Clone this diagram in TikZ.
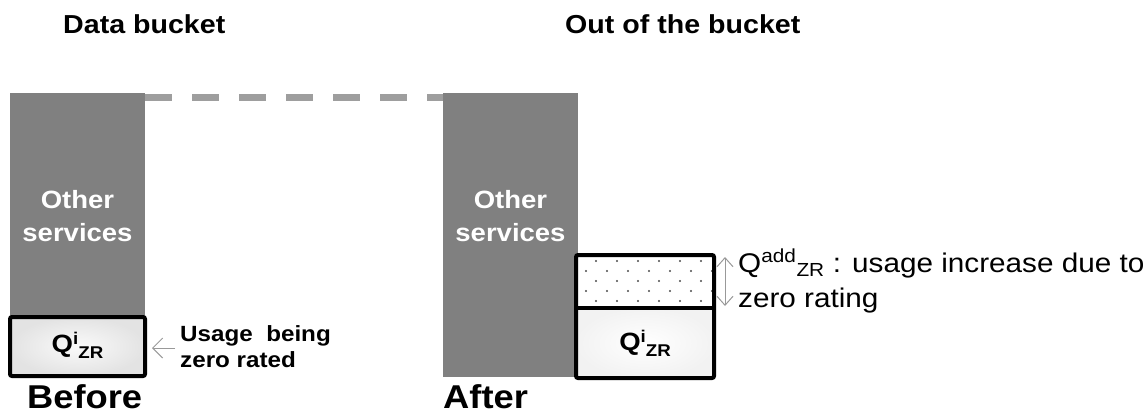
\documentclass[tikz,border=0pt]{standalone}
\usepackage{fontspec}
\setmainfont{Liberation Sans}[FakeStretch=1.1]
\usetikzlibrary{arrows.meta}
\definecolor{barcol}{gray}{0.5}
\definecolor{dashcol}{gray}{0.62}
\definecolor{arrcol}{gray}{0.6}
\definecolor{dotcol}{gray}{0.3}
\newcommand{\qizr}{Q\raisebox{8pt}{\fontsize{17}{17}\selectfont i}\raisebox{-6pt}{\fontsize{17}{17}\selectfont ZR}}
\tikzset{
  txt/.style={inner sep=0pt, anchor=base west, align=left},
  title/.style={txt, font=\fontsize{26}{30}\selectfont\bfseries},
  big/.style={txt, font=\fontsize{33}{38}\selectfont\bfseries},
  bar/.style={fill=barcol, draw=none},
  qbox/.style={draw=black, line width=4pt, rounded corners=2pt},
  barlabel/.style={inner sep=0pt, align=center, text=white, font=\fontsize{25}{33}\selectfont\bfseries},
  qlabel/.style={inner sep=0pt, font=\fontsize{25}{30}\selectfont\bfseries},
  pointer/.style={draw=arrcol, line width=1pt},
}
\begin{document}
\begin{tikzpicture}[x=1pt,y=-1pt]
\useasboundingbox (0,0) rectangle (1147,416);
% titles
\node[title] (t1) at (63,33) {Data bucket};
\node[title] (t2) at (565,33) {Out of the bucket};
% dashed line
\draw[dashcol, line width=7pt, dash pattern=on 27pt off 20pt] (145,97) -- (443,97);
% left bar
\fill[bar] (10,93) rectangle (145,316);
\node[barlabel] (os1) at (77.5,216) {Other\\services};
% before box
\shade[inner color=gray!4, outer color=gray!22] (10,317) rectangle (145,376);
\draw[qbox] (10,317) rectangle (145,376);
\node[qlabel] (q1) at (77.5,345) {\qizr};
% usage label and arrow
\node[txt, font=\fontsize{22}{26}\selectfont\bfseries] (use) at (180,367) {Usage\ \ being\\zero rated};
\coordinate (ua) at (175,348);
\coordinate (ub) at (152,348);
\draw[pointer, -{Straight Barb[length=10pt,width=20pt]}] (ua) -- (ub);
% before / after
\node[big] (before) at (27,408) {Before};
\node[big] (after) at (443,408) {After};
% right bar
\fill[bar] (443,93) rectangle (578,377);
\node[barlabel] (os2) at (510.5,216) {Other\\services};
% right boxes
\fill[white] (576,255) rectangle (714,308);
\begin{scope}
\clip (578,257) rectangle (712,306);
\foreach \r in {0,...,5}{
  \pgfmathsetmacro{\yy}{261+10*\r}
  \pgfmathsetmacro{\xo}{mod(\r,2)==0 ? 596 : 586}
  \foreach \c in {0,...,6}{
    \fill[dotcol] (\xo+21*\c,\yy) circle (1.2pt);
  }
}
\end{scope}
\shade[inner color=white, outer color=gray!10] (576,308) rectangle (714,378);
\draw[qbox] (576,255) rectangle (714,378);
\draw[black, line width=4pt] (576,308) -- (714,308);
\node[qlabel] (q2) at (645,343) {\qizr};
% double arrow
\coordinate (da) at (725,257);
\coordinate (db) at (725,306);
\draw[pointer, {Straight Barb[length=9pt,width=16pt]}-{Straight Barb[length=9pt,width=16pt]}] (da) -- (db);
\node[txt, font=\fontsize{27}{35}\selectfont] (add) at (738,307) {Q\textsuperscript{add}\textsubscript{ZR} : usage increase due to\\zero rating};
\end{tikzpicture}
\end{document}
